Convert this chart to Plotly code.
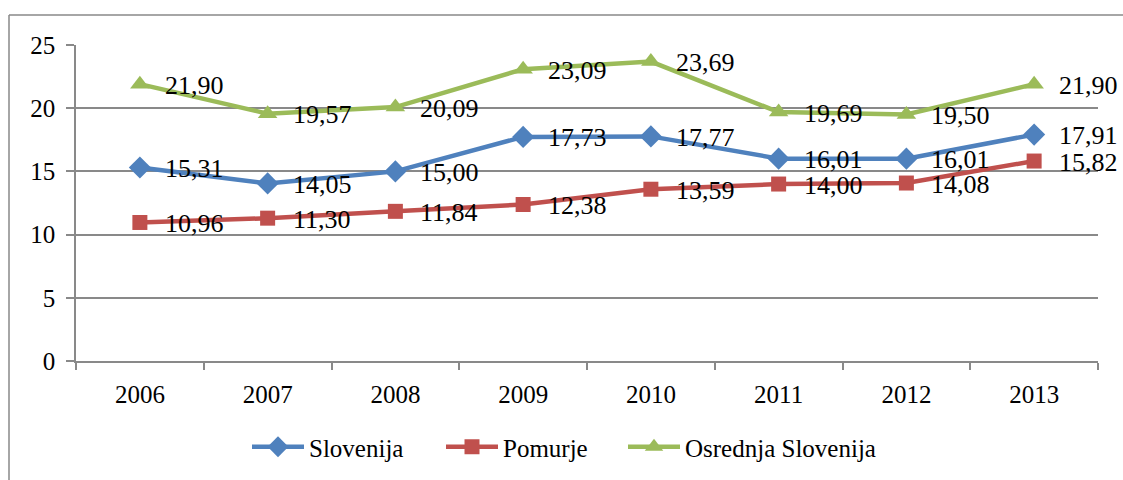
import plotly.graph_objects as go

years = ["2006", "2007", "2008", "2009", "2010", "2011", "2012", "2013"]
slovenija = [15.31, 14.05, 15.00, 17.73, 17.77, 16.01, 16.01, 17.91]
pomurje = [10.96, 11.30, 11.84, 12.38, 13.59, 14.00, 14.08, 15.82]
osrednja = [21.90, 19.57, 20.09, 23.09, 23.69, 19.69, 19.50, 21.90]
y_ticks = [0, 5, 10, 15, 20, 25]

series = [
    ("Slovenija", slovenija, "#4F81BD", "diamond", 17),
    ("Pomurje", pomurje, "#C0504D", "square", 15),
    ("Osrednja Slovenija", osrednja, "#9BBB59", "triangle-up", 17),
]

FONT = "Liberation Serif"
GRAY = "#898989"

# body margin is removed (post_script), so figure pixels == page pixels
L, T, R, B = 76, 45, 25, 119
W, H = 1123, 480
pw = W - L - R
ph = H - T - B

legend_names = ["legend", "legend2", "legend3"]
legend_left_px = [247, 441, 623]

fig = go.Figure()
annotations = []
for (name, vals, color, sym, msize), lg in zip(series, legend_names):
    fig.add_trace(go.Scatter(
        x=years, y=vals, name=name, mode="lines+markers",
        line=dict(color=color, width=4.5),
        marker=dict(symbol=sym, size=msize, color=color, line=dict(width=0)),
        legend=lg,
    ))
    for i, yv in enumerate(vals):
        annotations.append(dict(
            x=i, y=yv, xref="x", yref="y",
            text=f"{yv:.2f}".replace(".", ","),
            showarrow=False, xanchor="left", yanchor="middle",
            xshift=23, yshift=-1,
            font=dict(family=FONT, size=26, color="black"),
        ))

# outer chart border: top and left edges (right/bottom lie outside the page)
top_y = ((H - B) - 15) / ph
left_x = (9 - L) / pw
fig.add_shape(type="line", xref="paper", yref="paper",
              x0=left_x, x1=1.3, y0=top_y, y1=top_y,
              line=dict(color=GRAY, width=1.5), layer="below")
fig.add_shape(type="line", xref="paper", yref="paper",
              x0=left_x, x1=left_x, y0=top_y, y1=-0.6,
              line=dict(color=GRAY, width=1.5), layer="below")

legend_y = -(447 - (H - B)) / ph
legend_layouts = {}
for lg, px in zip(legend_names, legend_left_px):
    legend_layouts[lg] = dict(
        orientation="h", x=(px - L) / pw, xanchor="left", y=legend_y, yanchor="middle",
        font=dict(family=FONT, size=25, color="black"),
        itemwidth=52, bgcolor="rgba(0,0,0,0)", borderwidth=0,
    )

fig.update_layout(
    width=W, height=H,
    margin=dict(l=L, r=R, t=T, b=B, autoexpand=False),
    paper_bgcolor="white", plot_bgcolor="white",
    font=dict(family=FONT, size=25, color="black"),
    showlegend=True,
    annotations=annotations,
    xaxis=dict(
        type="category", showgrid=False, showline=True, linecolor=GRAY, linewidth=1.5,
        ticks="outside", tickson="boundaries", ticklen=7, tickcolor=GRAY, tickwidth=1.5,
        tickfont=dict(family=FONT, size=25, color="black"),
        range=[-0.5, 7.5], zeroline=False, automargin=False, ticklabelstandoff=10,
    ),
    yaxis=dict(
        range=[0, 25], tickvals=y_ticks, ticktext=[str(v) for v in y_ticks],
        showgrid=True, gridcolor=GRAY, gridwidth=1.5,
        showline=True, linecolor=GRAY, linewidth=1.5,
        ticks="outside", ticklen=8, tickcolor=GRAY, tickwidth=1.5,
        tickfont=dict(family=FONT, size=25, color="black"),
        zeroline=False, ticklabelstandoff=6, automargin=False,
    ),
    **legend_layouts,
)

fig.write_html("out.html", config={"displayModeBar": False},
               post_script="document.body.style.margin='0';")
